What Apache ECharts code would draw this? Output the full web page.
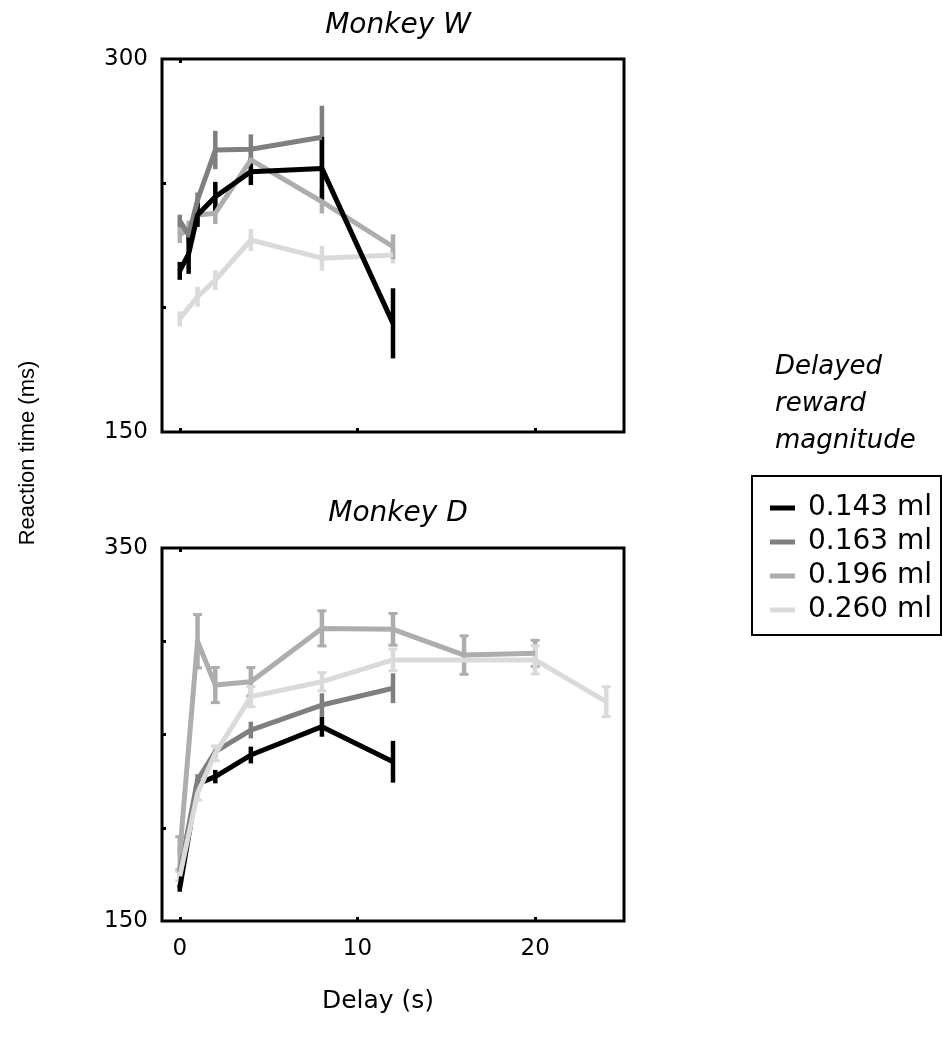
<!DOCTYPE html>
<html>
<head>
<meta charset="utf-8">
<script src="https://cdn.jsdelivr.net/npm/echarts@6/dist/echarts.min.js"></script>
<style>
html,body{margin:0;padding:0;background:#fff;}
#chart{width:942px;height:1048px;}
</style>
</head>
<body>
<div id="chart"></div>
<script>
// ---------- Data ----------
const seriesNames = ['0.143 ml', '0.163 ml', '0.196 ml', '0.260 ml'];
const seriesColors = ['#000000', '#7f7f7f', '#adadad', '#dadada'];

// Monkey W (top panel)
const delaysW = [0, 0.5, 1, 2, 4, 8, 12];
const wMean143 = [214.8, 221.6, 237.3, 244.6, 254.7, 256.0, 193.7];
const wErr143  = [3.6, 8.0, 4.8, 6.0, 5.4, 12.7, 14.1];
const wMean163 = [234.9, 229.2, 243.3, 263.4, 263.7, 268.5, null];
const wErr163  = [2.5, 3.0, 3.0, 7.7, 6.0, 12.7, null];
const wMean196 = [229.2, 232.0, 237.3, 238.0, 259.4, 242.6, 224.5];
const wErr196  = [3.2, 3.0, 3.0, 4.4, 4.0, 4.7, 5.0];
const wMean260 = [195.5, null, 204.4, 211.1, 227.2, 219.9, 221.2];
const wErr260  = [3.0, null, 4.0, 4.0, 4.4, 5.0, 3.4];

// Monkey D (bottom panel)
const delaysD = [0, 1, 2, 4, 8, 12, 16, 20, 24];
const dMean143 = [167.7, 223.5, 227.4, 239.0, 254.2, 235.4, null, null, null];
const dErr143  = [2.0, 2.5, 3.6, 4.5, 5.4, 11.2, null, null, null];
const dMean163 = [176.0, 225.6, 240.8, 252.4, 265.8, 274.8, null, null, null];
const dErr163  = [3.0, 3.1, 3.0, 4.5, 6.3, 8.0, null, null, null];
const dMean196 = [186.3, 300.0, 276.5, 278.3, 306.9, 306.4, 292.6, 293.5, null];
const dErr196  = [8.9, 14.3, 9.4, 7.6, 9.4, 8.5, 10.3, 7.0, null];
const dMean260 = [174.0, 218.5, 239.9, 270.3, 278.3, 290.0, null, 290.0, 267.6];
const dErr260  = [2.5, 3.6, 4.0, 5.4, 4.9, 5.8, null, 7.6, 8.0];

const xTickValues = [0, 10, 20];
const yLabelsW = [150, 300];
const yTicksW = [200, 250];
const yLabelsD = [150, 350];
const yTicksD = [200, 250, 300];

// ---------- Helpers ----------
function lineData(xs, ys) {
  const out = [];
  xs.forEach((x, i) => { if (ys[i] !== null) out.push([x, ys[i]]); });
  return out;
}
function errData(xs, ys, es) {
  const out = [];
  xs.forEach((x, i) => { if (ys[i] !== null && es[i] !== null) out.push([x, ys[i], es[i]]); });
  return out;
}
function errRender(capHalf) {
  return function (params, api) {
    const x = api.value(0), y = api.value(1), e = api.value(2);
    const p1 = api.coord([x, y + e]);
    const p2 = api.coord([x, y - e]);
    const color = api.visual('color');
    const children = [{
      type: 'line',
      shape: { x1: p1[0], y1: p1[1], x2: p2[0], y2: p2[1] },
      style: { stroke: color, lineWidth: 4.5 }
    }];
    if (capHalf > 0) {
      children.push({ type: 'line', shape: { x1: p1[0] - capHalf, y1: p1[1], x2: p1[0] + capHalf, y2: p1[1] }, style: { stroke: color, lineWidth: 3 } });
      children.push({ type: 'line', shape: { x1: p2[0] - capHalf, y1: p2[1], x2: p2[0] + capHalf, y2: p2[1] }, style: { stroke: color, lineWidth: 3 } });
    }
    return { type: 'group', children: children };
  };
}
function makePair(name, color, xs, ys, es, xi, yi, cap) {
  return [
    {
      type: 'line', name: name, xAxisIndex: xi, yAxisIndex: yi,
      data: lineData(xs, ys), symbol: 'none', showSymbol: false,
      connectNulls: true,
      lineStyle: { color: color, width: 5, join: 'round' }, itemStyle: { color: color },
      animation: false
    },
    {
      type: 'custom', name: name, xAxisIndex: xi, yAxisIndex: yi,
      data: errData(xs, ys, es), encode: { x: 0, y: 1 },
      renderItem: errRender(cap),
      itemStyle: { color: color },
      animation: false
    }
  ];
}

const FONT = 'DejaVu Sans';

function xAxisCfg(grid, showLabels) {
  return {
    type: 'value', gridIndex: grid, min: -1, max: 25, position: 'bottom',
    axisLine: { show: false, onZero: false },
    splitLine: { show: false },
    axisTick: { show: true, inside: true, length: 4, customValues: xTickValues, lineStyle: { color: '#000', width: 3 } },
    axisLabel: { show: showLabels, customValues: xTickValues, fontFamily: FONT, fontSize: 23, color: '#000', margin: 17 }
  };
}
function xTopAxisCfg(grid) {
  return {
    type: 'value', gridIndex: grid, min: -1, max: 25, position: 'top',
    axisLine: { show: false, onZero: false }, splitLine: { show: false },
    axisTick: { show: true, inside: true, length: 4, customValues: [0], lineStyle: { color: '#000', width: 3 } },
    axisLabel: { show: false }
  };
}
function yAxisCfg(grid, mn, mx, labels, ticks) {
  return {
    type: 'value', gridIndex: grid, min: mn, max: mx, interval: 50, position: 'left',
    axisLine: { show: false, onZero: false }, splitLine: { show: false },
    axisTick: { show: true, inside: true, length: 4, customValues: ticks, lineStyle: { color: '#000', width: 3 } },
    axisLabel: { show: true, customValues: labels, fontFamily: FONT, fontSize: 23, color: '#000', margin: 14 }
  };
}

// Series: top panel (black on top), bottom panel (light on top)
let series = [];
series = series.concat(makePair(seriesNames[3], seriesColors[3], delaysW, wMean260, wErr260, 0, 0, 0));
series = series.concat(makePair(seriesNames[2], seriesColors[2], delaysW, wMean196, wErr196, 0, 0, 0));
series = series.concat(makePair(seriesNames[1], seriesColors[1], delaysW, wMean163, wErr163, 0, 0, 0));
series = series.concat(makePair(seriesNames[0], seriesColors[0], delaysW, wMean143, wErr143, 0, 0, 0));
series = series.concat(makePair(seriesNames[0], seriesColors[0], delaysD, dMean143, dErr143, 2, 1, 0));
series = series.concat(makePair(seriesNames[1], seriesColors[1], delaysD, dMean163, dErr163, 2, 1, 0));
series = series.concat(makePair(seriesNames[2], seriesColors[2], delaysD, dMean196, dErr196, 2, 1, 4.5));
series = series.concat(makePair(seriesNames[3], seriesColors[3], delaysD, dMean260, dErr260, 2, 1, 4.5));

const option = {
  backgroundColor: '#ffffff',
  animation: false,
  title: [
    { text: 'Monkey W', left: 393, top: 7, textAlign: 'center',
      textStyle: { fontFamily: FONT, fontSize: 28, fontStyle: 'italic', fontWeight: 'normal', color: '#000' } },
    { text: 'Monkey D', left: 393, top: 495, textAlign: 'center',
      textStyle: { fontFamily: FONT, fontSize: 28, fontStyle: 'italic', fontWeight: 'normal', color: '#000' } }
  ],
  grid: [
    { left: 162, top: 59, width: 462, height: 373, show: true, borderColor: '#000', borderWidth: 3, backgroundColor: 'transparent' },
    { left: 162, top: 548, width: 462, height: 373, show: true, borderColor: '#000', borderWidth: 3, backgroundColor: 'transparent' }
  ],
  xAxis: [xAxisCfg(0, false), xTopAxisCfg(0), xAxisCfg(1, true), xTopAxisCfg(1)],
  yAxis: [yAxisCfg(0, 150, 300, yLabelsW, yTicksW), yAxisCfg(1, 150, 350, yLabelsD, yTicksD)],
  legend: {
    orient: 'vertical', left: 765, top: 489,
    icon: 'rect', itemWidth: 25, itemHeight: 5, itemGap: 6,
    selectedMode: false,
    textStyle: { fontFamily: FONT, fontSize: 28, color: '#000', lineHeight: 28, padding: [0, 0, 0, 8] },
    data: seriesNames.map((n, i) => ({ name: n, itemStyle: { color: seriesColors[i] } }))
  },
  graphic: [
    { type: 'rect', shape: { x: 752, y: 476, width: 189, height: 159 },
      style: { fill: 'none', stroke: '#000', lineWidth: 2 }, z: 0 },
    { type: 'text', x: 775, y: 349,
      style: { text: 'Delayed\nreward\nmagnitude', fontFamily: FONT, fontSize: 26, fontStyle: 'italic',
               lineHeight: 37, fill: '#000', align: 'left', verticalAlign: 'top' } },
    { type: 'text', x: 28, y: 453, rotation: Math.PI / 2,
      style: { text: 'Reaction time (ms)', fontFamily: 'Liberation Sans', fontSize: 22, fill: '#000',
               align: 'center', verticalAlign: 'middle' } },
    { type: 'text', x: 378, y: 1001,
      style: { text: 'Delay (s)', fontFamily: FONT, fontSize: 25, fill: '#000',
               align: 'center', verticalAlign: 'middle' } }
  ],
  series: series
};

const chart = echarts.init(document.getElementById('chart'), null, { renderer: 'canvas' });
chart.setOption(option);
</script>
</body>
</html>
